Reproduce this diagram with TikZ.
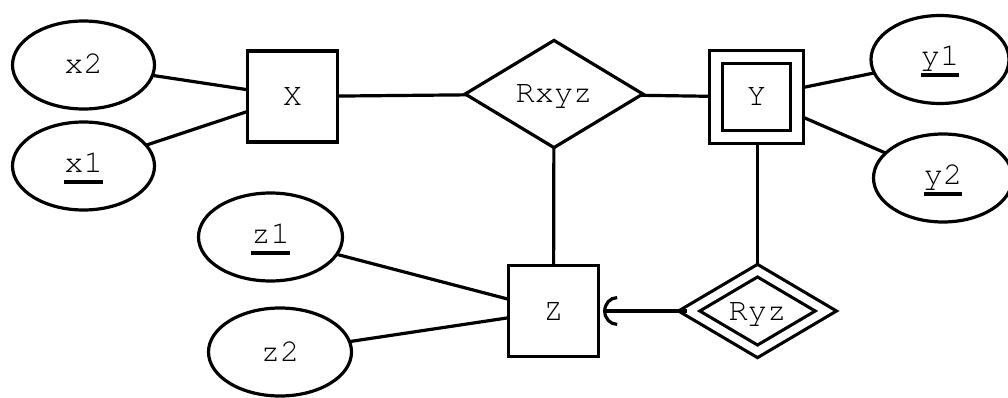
\documentclass[tikz,border=0pt]{standalone}
\usepackage{fontspec}
\setmainfont{TeX Gyre Cursor}
\usetikzlibrary{shapes.geometric,arrows.meta,backgrounds}

% key attributes are printed with a heavy underline
\newcommand\keyname[1]{\setbox0=\hbox{#1}\rlap{\rule[-11.5pt]{\wd0}{3.5pt}}\box0}

\tikzset{
  er/.style={draw, line width=3.2pt, fill=white, inner sep=0pt,
    font=\fontsize{32}{32}\selectfont, text height=18pt, text depth=0pt},
  attr/.style={er, ellipse, minimum width=#1, minimum height=88pt},
  attr/.default=142pt,
  keyattr/.style={attr=#1, text depth=6pt},
  keyattr/.default=142pt,
  entity/.style={er, rectangle, minimum width=90pt, minimum height=91pt},
  weakentity/.style={er, rectangle, double, double distance=9.8pt,
    minimum width=81pt, minimum height=80pt},
  rel/.style={er, diamond, aspect=1.65, minimum width=179pt, minimum height=108.5pt},
  weakrel/.style={er, diamond, aspect=1.7, double, double distance=7.5pt,
    minimum width=138pt, minimum height=82pt},
  link/.style={line width=3.2pt},
}

\begin{document}
\begin{tikzpicture}[x=1pt, y=-1pt]
  \useasboundingbox (0,0) rectangle (1008,398);

  % entities
  \node[entity]     (X) at (292.5,96.5) {X};
  \node[entity]     (Z) at (553.5,311)  {Z};
  \node[weakentity] (Y) at (756.5,97)   {Y};

  % relationships
  \node[rel]     (Rxyz) at (554,94)    {Rxyz};
  \node[weakrel] (Ryz)  at (757.5,311) {Ryz};

  % attributes
  \node[attr]        (x2) at (83.5,65)  {x2};
  \node[keyattr]     (x1) at (83.5,166) {\keyname{x1}};
  \node[keyattr=138pt] (y1) at (940,59.5) {\keyname{y1}};
  \node[keyattr=139pt] (y2) at (943,178)  {\keyname{y2}};
  \node[keyattr=144pt] (z1) at (270.5,237) {\keyname{z1}};
  \node[attr=143pt]  (z2) at (280,352)  {z2};

  % connectors
  \begin{scope}[on background layer]
    \draw[link] (x2.center) -- (X.center);
    \draw[link] (x1.center) -- (X.center);
    \draw[link] (X.center) -- (Rxyz.center);
    \draw[link] (Rxyz.center) -- (Y.center);
    \draw[link] (Y.center) -- (y1.center);
    \draw[link] (Y.center) -- (y2.center);
    \draw[link] (Rxyz.center) -- (Z.center);
    \draw[link] (Y.center) -- (Ryz.center |- Y.center) -- (Ryz.center);
    \draw[link] (z1.center) -- (Z.center);
    \draw[link] (z2.center) -- (Z.center);
  \end{scope}
  \draw[link, -{Arc Barb[length=14pt, width=30pt]}, shorten >=3pt]
    (Ryz.west) -- (Z.east);
\end{tikzpicture}
\end{document}
